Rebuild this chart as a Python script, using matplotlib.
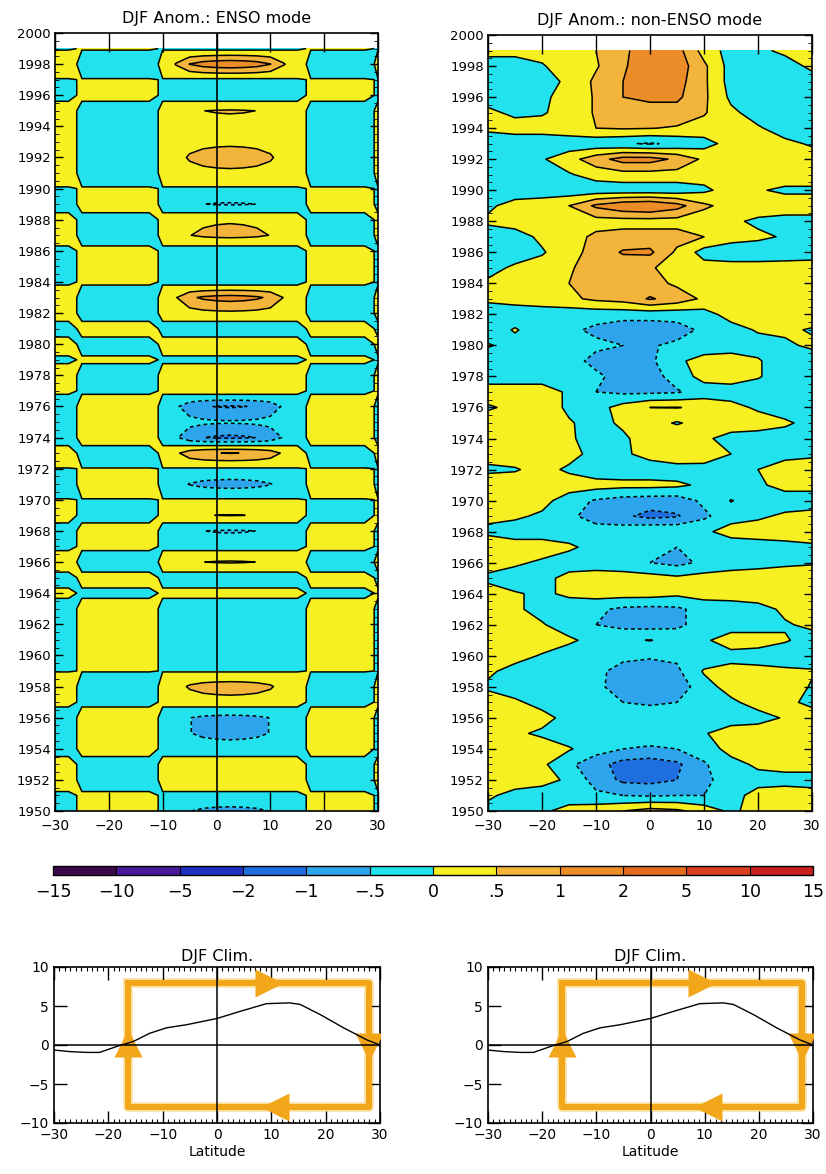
import numpy as np
import matplotlib.pyplot as plt
from matplotlib.colors import ListedColormap, BoundaryNorm
from matplotlib.cm import ScalarMappable
from matplotlib.ticker import MultipleLocator

plt.rcParams['font.family'] = ['DejaVu Sans']

# ---- data ----
years = np.arange(1950, 2000)

# ENSO mode: latitude pattern x yearly DJF index
lat_enso = np.arange(-30, 30.1, 2.5)
enso_profile = [0.15, 0.08, -0.05, -0.15, -0.2, -0.2, -0.18, -0.1, 0.05, 0.4, 0.75, 0.9, 0.97,
                1.0, 0.97, 0.9, 0.75, 0.4, 0.1, -0.05, -0.15, -0.17, -0.15, -0.05, 0.02]
enso_index = [-0.65, -0.1, 0.3, 0.3, -0.3, -0.65, -0.65, 0.3, 0.75, -0.05,      # 1950s
              -0.3, -0.35, -0.35, -0.3, 0.15, -0.3, 0.55, -0.2, -0.55, 0.52,    # 1960s
              0.05, -0.7, -0.05, 1.02, -1.1, -0.45, -1.05, 0.3, 0.3, -0.1,      # 1970s
              0.3, -0.35, 0.4, 1.2, -0.3, -0.3, -0.3, 0.65, 0.45, -0.55,        # 1980s
              -0.05, 0.4, 0.75, 0.4, 0.3, 0.55, -0.35, -0.1, 1.35, -0.15]       # 1990s

# non-ENSO mode on a 5 deg grid, one row per year
lat_non = np.arange(-30, 31, 5)
non_enso_1950s = [
    [-0.2, -0.3, -0.1, 0.2, 0.3, 0.5, 0.7, 0.6, 0.3, -0.1, 0.2, 0.3, 0.2],
    [0.1, -0.2, -0.3, -0.3, -0.4, -0.5, -0.55, -0.5, -0.5, -0.2, 0.2, 0.3, 0.2],
    [0.3, 0.3, 0.2, -0.1, -0.7, -1.1, -1.15, -1.0, -0.6, -0.3, -0.2, -0.2, -0.2],
    [0.3, 0.3, 0.1, -0.4, -0.8, -1.2, -1.3, -1.1, -0.55, -0.2, 0.1, 0.2, 0.2],
    [0.3, 0.3, 0.3, 0.05, -0.3, -0.5, -0.55, -0.5, -0.3, 0.2, 0.3, 0.3, 0.2],
    [0.3, 0.1, -0.1, -0.3, -0.3, -0.3, -0.3, -0.3, -0.05, 0.3, 0.3, 0.3, 0.2],
    [0.3, 0.3, 0.2, -0.2, -0.3, -0.3, -0.3, -0.3, -0.3, -0.3, -0.2, 0.05, 0.2],
    [0.3, 0.1, -0.2, -0.3, -0.3, -0.5, -0.55, -0.5, -0.3, -0.1, 0.2, 0.1, -0.1],
    [-0.1, -0.3, -0.3, -0.3, -0.4, -0.7, -0.9, -0.8, -0.2, 0.2, 0.3, 0.3, -0.05],
    [0.1, -0.2, -0.3, -0.3, -0.4, -0.65, -0.7, -0.6, 0.05, 0.2, 0.2, 0.1, 0.05],
]
non_enso_1960s = [
    [0.3, 0.2, -0.05, -0.3, -0.3, -0.4, -0.45, -0.4, -0.3, -0.2, -0.3, -0.3, -0.3],
    [0.3, 0.3, 0.3, 0.1, -0.2, -0.1, 0.02, -0.2, -0.1, 0.3, 0.3, 0.05, -0.2],
    [0.3, 0.3, 0.05, -0.3, -0.5, -0.65, -0.7, -0.6, -0.3, -0.3, -0.3, -0.05, 0.1],
    [0.3, 0.1, -0.2, -0.3, -0.4, -0.6, -0.65, -0.6, -0.3, -0.3, -0.2, 0.1, 0.3],
    [0.2, 0.05, -0.1, 0.1, 0.2, 0.2, 0.2, 0.1, 0.2, 0.25, 0.3, 0.3, 0.2],
    [-0.1, -0.3, -0.2, 0.2, 0.3, 0.3, 0.2, 0.1, 0.2, 0.3, 0.3, 0.3, 0.3],
    [0.2, 0.1, -0.1, -0.3, -0.3, -0.4, -0.5, -0.65, -0.4, -0.3, -0.2, -0.1, -0.05],
    [0.3, 0.3, 0.3, 0.1, -0.2, -0.3, -0.35, -0.5, -0.4, -0.3, -0.3, -0.2, -0.1],
    [-0.1, -0.3, -0.3, -0.3, -0.3, -0.2, 0.0, -0.05, -0.1, 0.2, 0.3, 0.3, 0.3],
    [0.1, 0.1, -0.1, -0.4, -0.7, -0.9, -1.15, -1.05, -0.6, -0.2, -0.1, 0.1, 0.2],
]
non_enso_1970s = [
    [0.05, 0.3, 0.2, -0.3, -0.55, -0.7, -0.75, -0.75, -0.4, 0.02, -0.2, -0.3, -0.3],
    [0.3, 0.3, 0.3, 0.3, 0.2, 0.15, 0.15, 0.1, -0.1, -0.3, -0.1, 0.2, 0.2],
    [-0.1, -0.05, 0.2, -0.1, -0.3, -0.3, -0.3, -0.3, -0.3, -0.2, 0.0, 0.3, 0.3],
    [0.2, 0.3, 0.3, 0.2, -0.2, -0.1, 0.2, 0.5, 0.45, 0.0, -0.3, -0.2, -0.1],
    [0.2, 0.3, 0.3, 0.1, -0.3, -0.1, 0.3, 0.4, 0.1, -0.2, -0.3, -0.3, -0.3],
    [0.2, 0.3, 0.3, 0.05, -0.2, 0.1, 0.2, -0.05, 0.2, 0.3, 0.3, 0.1, -0.2],
    [-0.05, 0.1, 0.3, -0.1, -0.2, 0.2, 0.5, 0.52, 0.4, 0.2, -0.1, -0.3, -0.3],
    [0.2, 0.3, 0.3, -0.1, -0.5, -0.6, -0.6, -0.55, -0.3, -0.3, -0.3, -0.3, -0.1],
    [-0.2, -0.3, -0.3, -0.3, -0.4, -0.7, -0.7, -0.3, 0.2, 0.3, 0.05, -0.3, -0.3],
    [-0.3, -0.3, -0.3, -0.3, -0.65, -0.7, -0.6, -0.1, 0.2, 0.3, 0.05, -0.3, -0.3],
]
non_enso_1980s = [
    [0.05, -0.2, -0.3, -0.3, -0.4, -0.5, -0.55, -0.4, -0.3, -0.3, -0.2, -0.1, 0.1],
    [-0.3, 0.05, -0.3, -0.4, -0.6, -0.8, -0.8, -0.7, -0.4, -0.2, 0.05, 0.1, -0.05],
    [-0.3, -0.3, -0.3, -0.3, -0.3, -0.3, -0.3, -0.3, -0.2, 0.2, 0.3, 0.3, 0.3],
    [0.1, 0.2, 0.3, 0.4, 0.6, 0.7, 1.05, 0.8, 0.4, 0.3, 0.2, 0.2, 0.2],
    [0.1, 0.2, 0.3, 0.5, 0.8, 0.8, 0.7, 0.4, 0.3, 0.3, 0.2, 0.2, 0.2],
    [-0.2, 0.1, 0.2, 0.45, 0.7, 0.7, 0.55, 0.3, 0.2, 0.2, 0.2, 0.2, 0.2],
    [-0.3, -0.3, -0.05, 0.3, 0.7, 1.05, 1.1, 0.4, -0.2, -0.3, -0.3, -0.25, -0.2],
    [-0.3, -0.2, 0.1, 0.3, 0.6, 0.7, 0.7, 0.7, 0.5, 0.2, 0.1, -0.05, -0.1],
    [0.1, 0.2, 0.2, 0.3, 0.3, 0.3, 0.3, 0.3, 0.2, 0.1, -0.1, -0.2, -0.2],
    [-0.1, 0.2, 0.3, 0.5, 1.1, 1.4, 1.5, 1.2, 0.6, 0.3, 0.3, 0.3, 0.3],
]
non_enso_1990s = [
    [-0.3, -0.3, -0.3, -0.3, -0.3, -0.3, -0.3, -0.3, -0.1, 0.2, 0.05, -0.1, -0.1],
    [-0.3, -0.3, -0.25, -0.05, 0.2, 0.3, 0.3, 0.3, 0.2, 0.2, 0.25, 0.3, 0.3],
    [-0.3, -0.3, -0.05, 0.3, 0.8, 1.2, 1.2, 0.9, 0.4, 0.3, 0.3, 0.3, 0.2],
    [-0.3, -0.3, -0.3, -0.3, -0.35, -0.45, -0.55, -0.4, -0.2, 0.2, 0.2, 0.1, -0.05],
    [0.1, 0.2, 0.2, 0.3, 0.5, 0.55, 0.52, 0.45, 0.3, 0.2, 0.05, -0.2, -0.3],
    [0.1, -0.1, -0.05, 0.2, 0.55, 0.8, 0.8, 0.8, 0.55, 0.1, -0.2, -0.3, -0.3],
    [-0.2, -0.3, -0.1, 0.2, 0.55, 1.0, 1.1, 1.1, 0.6, -0.1, -0.3, -0.3, -0.3],
    [-0.3, -0.35, -0.2, 0.1, 0.6, 1.0, 1.4, 1.2, 0.6, -0.2, -0.3, -0.3, -0.2],
    [-0.3, -0.3, -0.05, 0.3, 0.45, 0.9, 1.5, 1.3, 0.6, -0.2, -0.3, -0.2, 0.1],
    [0.2, 0.2, 0.2, 0.3, 0.5, 0.9, 1.3, 1.2, 0.3, -0.2, -0.1, 0.1, 0.2],
]

# contour levels and colour table
levels = [-15, -10, -5, -2, -1, -0.5, 0, 0.5, 1, 2, 5, 10, 15]
level_labels = ['−15', '−10', '−5', '−2', '−1', '−.5', '0', '.5', '1', '2', '5', '10', '15']
level_colors = ['#3a0848', '#4a1a9a', '#2030c0', '#1e6ee0', '#2ea4ec', '#22e2ee',
                '#f6f022', '#f2b43a', '#ec8c28', '#e66a20', '#d84020', '#c82020']

# DJF climatology
clim_lat = [-30, -27, -24, -21.6, -18.5, -15.4, -12.4, -9.3, -5.6, 0, 4.2, 9.1, 13.4, 15.3, 19, 23.3, 27.6, 30]
clim_val = [-0.65, -0.85, -0.95, -0.95, -0.2, 0.45, 1.5, 2.2, 2.6, 3.4, 4.3, 5.3, 5.4, 5.2, 3.9, 2.2, 0.65, 0.0]

# schematic circulation cell
cell_south, cell_north = -16.4, 27.9
cell_top, cell_bottom = 8.0, -8.0
cell_color = '#f2a71b'

# ---- figure ----
W, H = 826, 1174
fig = plt.figure(figsize=(W / 100, H / 100), dpi=100)

cmap = ListedColormap(level_colors)
norm = BoundaryNorm(levels, cmap.N)


def px_axes(x0, y0, x1, y1):
    return fig.add_axes([x0 / W, 1 - y1 / H, (x1 - x0) / W, (y1 - y0) / H])


def hov(ax, lat, z, title, zero_line):
    ax.contourf(lat, years, z, levels=levels, cmap=cmap, norm=norm)
    ax.contour(lat, years, z, levels=levels, colors='k', linewidths=1.1,
               linestyles=[(0, (2.5, 2)) if l < 0 else '-' for l in levels])
    if zero_line:
        ax.axvline(0, color='k', lw=1.2)
    ax.set_xlim(-30, 30)
    ax.set_ylim(1950, 2000)
    ax.set_xticks(range(-30, 31, 10))
    ax.set_yticks(range(1950, 2001, 2))
    ax.yaxis.set_minor_locator(MultipleLocator(0.5))
    ax.tick_params(axis='x', which='major', direction='in', length=14, top=True,
                   labelsize=10, pad=6, width=1)
    ax.tick_params(axis='y', which='major', direction='in', length=6, right=True,
                   labelsize=9.5, pad=3, width=1)
    ax.tick_params(axis='y', which='minor', direction='in', length=3, right=True)
    for s in ax.spines.values():
        s.set_linewidth(1.2)
    ax.set_title(title, fontsize=11.5, pad=7)


z_enso = np.outer(enso_index, enso_profile)
z_non = np.array(non_enso_1950s + non_enso_1960s + non_enso_1970s + non_enso_1980s + non_enso_1990s)

ax1 = px_axes(55, 33, 378, 811)
hov(ax1, lat_enso, z_enso, 'DJF Anom.: ENSO mode', True)
ax2 = px_axes(488, 35, 812, 811)
hov(ax2, lat_non, z_non, 'DJF Anom.: non-ENSO mode', False)

# colour bar
cax = px_axes(53, 866, 813, 875)
cb = fig.colorbar(ScalarMappable(norm=norm, cmap=cmap), cax=cax, orientation='horizontal',
                  ticks=levels, spacing='uniform', drawedges=True)
cb.set_ticklabels(level_labels)
cb.ax.tick_params(length=0, labelsize=12.5, pad=6)
cb.outline.set_linewidth(1)
cb.dividers.set_linewidth(0.8)


def clim_panel(x0, x1):
    ax = px_axes(x0, 967, x1, 1123)
    box_x = [cell_south, cell_north, cell_north, cell_south, cell_south]
    box_y = [cell_top, cell_top, cell_bottom, cell_bottom, cell_top]
    ax.plot(box_x, box_y, color='#fbe3a8', lw=7, solid_joinstyle='round', zorder=1)
    ax.plot(box_x, box_y, color=cell_color, lw=4.4, solid_joinstyle='round', zorder=2)
    mid = 0.5 * (cell_south + cell_north)
    ax.plot(mid + 3.8, cell_top, marker='>', ms=20, color=cell_color, mec='none', zorder=3)
    ax.plot(mid + 4.9, cell_bottom, marker='<', ms=20, color=cell_color, mec='none', zorder=3)
    ax.plot(cell_south, 0.2, marker='^', ms=20, color=cell_color, mec='none', zorder=3)
    ax.plot(cell_north, -0.2, marker='v', ms=20, color=cell_color, mec='none', zorder=3)
    ax.axhline(0, color='k', lw=1.1, zorder=4)
    ax.axvline(0, color='k', lw=1.1, zorder=4)
    ax.plot(clim_lat, clim_val, color='k', lw=1.0, zorder=5)
    ax.set_xlim(-30, 30)
    ax.set_ylim(-10, 10)
    ax.set_xticks(range(-30, 31, 10))
    ax.set_yticks([-10, -5, 0, 5, 10])
    ax.xaxis.set_minor_locator(MultipleLocator(1))
    ax.tick_params(which='major', direction='in', length=9, top=True, right=True,
                   labelsize=10, width=1)
    ax.tick_params(which='minor', direction='in', length=3, top=True, width=0.8)
    for s in ax.spines.values():
        s.set_linewidth(1.2)
    ax.set_title('DJF Clim.', fontsize=11.5, pad=4)
    ax.set_xlabel('Latitude', fontsize=10, labelpad=2)
    return ax


clim_panel(54, 380)
clim_panel(488, 813)

fig.savefig('out.png', dpi=100)
